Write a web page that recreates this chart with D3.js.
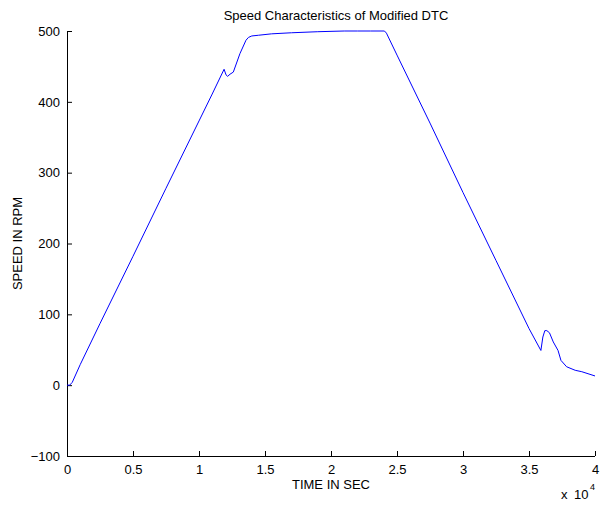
<!DOCTYPE html>
<html>
<head>
<meta charset="utf-8">
<script src="https://cdn.jsdelivr.net/npm/d3@7"></script>
<style>
  body { margin: 0; background: #fff; }
  svg text { font-family: "Liberation Sans", Arial, sans-serif; fill: #000; }
</style>
</head>
<body>
<svg id="chart" width="605" height="506"></svg>
<script>
// time values in units of 1e4 s
const timeValues = [0, 0.02, 0.04, 0.1, 0.25, 0.5, 0.75, 1.0, 1.1, 1.19, 1.205, 1.217, 1.235, 1.26, 1.31, 1.356, 1.375, 1.4, 1.45, 1.55, 1.7, 1.9, 2.0, 2.1, 2.2, 2.3, 2.405, 2.42, 2.5, 2.75, 3.0, 3.25, 3.5, 3.59, 3.605, 3.62, 3.635, 3.655, 3.684, 3.72, 3.742, 3.785, 3.85, 3.9, 4.0];
const speedValues = [0, 0, 4, 29, 87, 182, 278, 373, 411, 446, 438, 436, 439, 442, 468, 487, 491, 493, 494, 496, 497.5, 499, 499.5, 500, 500, 500, 500, 497, 466, 370, 272, 176, 80, 49, 68, 77, 77, 74, 61, 49, 35, 26, 21, 19, 13];
const xTicks = [0, 0.5, 1, 1.5, 2, 2.5, 3, 3.5, 4];
const yTicks = [-100, 0, 100, 200, 300, 400, 500];
const titleText = "Speed Characteristics of Modified DTC";
const xLabel = "TIME IN SEC";
const yLabel = "SPEED IN RPM";

const svg = d3.select("#chart");
const mLeft = 67, mRight = 595, mTop = 31, mBottom = 456;

const x = d3.scaleLinear().domain([0, 4]).range([mLeft, mRight]);
const y = d3.scaleLinear().domain([-100, 500]).range([mBottom, mTop]);

const fs = "13px";

// x axis
const xAxis = d3.axisBottom(x).tickValues(xTicks).tickSize(-5).tickPadding(9)
  .tickFormat(d => d3.format("")(d));
const gx = svg.append("g").attr("transform", `translate(0,${mBottom})`).call(xAxis);
gx.select(".domain").attr("d", `M${mLeft},0.5H${mRight}`).attr("stroke", "#000");
gx.selectAll("text").style("font-size", fs).attr("dy", "0.71em");

// y axis
const yAxis = d3.axisLeft(y).tickValues(yTicks).tickSize(-5).tickPadding(7);
const gy = svg.append("g").attr("transform", `translate(${mLeft},0)`).call(yAxis);
gy.select(".domain").attr("d", `M0.5,${mBottom}V${mTop}`).attr("stroke", "#000");
gy.selectAll("text").style("font-size", fs);

svg.selectAll(".tick line").attr("stroke", "#000");

// line
const line = d3.line().x((d, i) => x(timeValues[i])).y(d => y(d));
svg.append("path").datum(speedValues)
  .attr("d", line).attr("fill", "none").attr("stroke", "#0000ff").attr("stroke-width", 1);

// title
svg.append("text").attr("x", (mLeft + mRight) / 2 + 5).attr("y", 20)
  .attr("text-anchor", "middle").style("font-size", fs).text(titleText);

// x label
svg.append("text").attr("x", (mLeft + mRight) / 2).attr("y", 489)
  .attr("text-anchor", "middle").style("font-size", fs).text(xLabel);

// y label
svg.append("text").attr("transform", `translate(22,${(mTop + mBottom) / 2}) rotate(-90)`)
  .attr("text-anchor", "middle").style("font-size", fs).text(yLabel);

// exponent
svg.append("text").attr("x", 561).attr("y", 499).style("font-size", fs).text("x");
svg.append("text").attr("x", 574).attr("y", 499).style("font-size", fs).text("10");
svg.append("text").attr("x", 590).attr("y", 490).style("font-size", "9px").text("4");
</script>
</body>
</html>
